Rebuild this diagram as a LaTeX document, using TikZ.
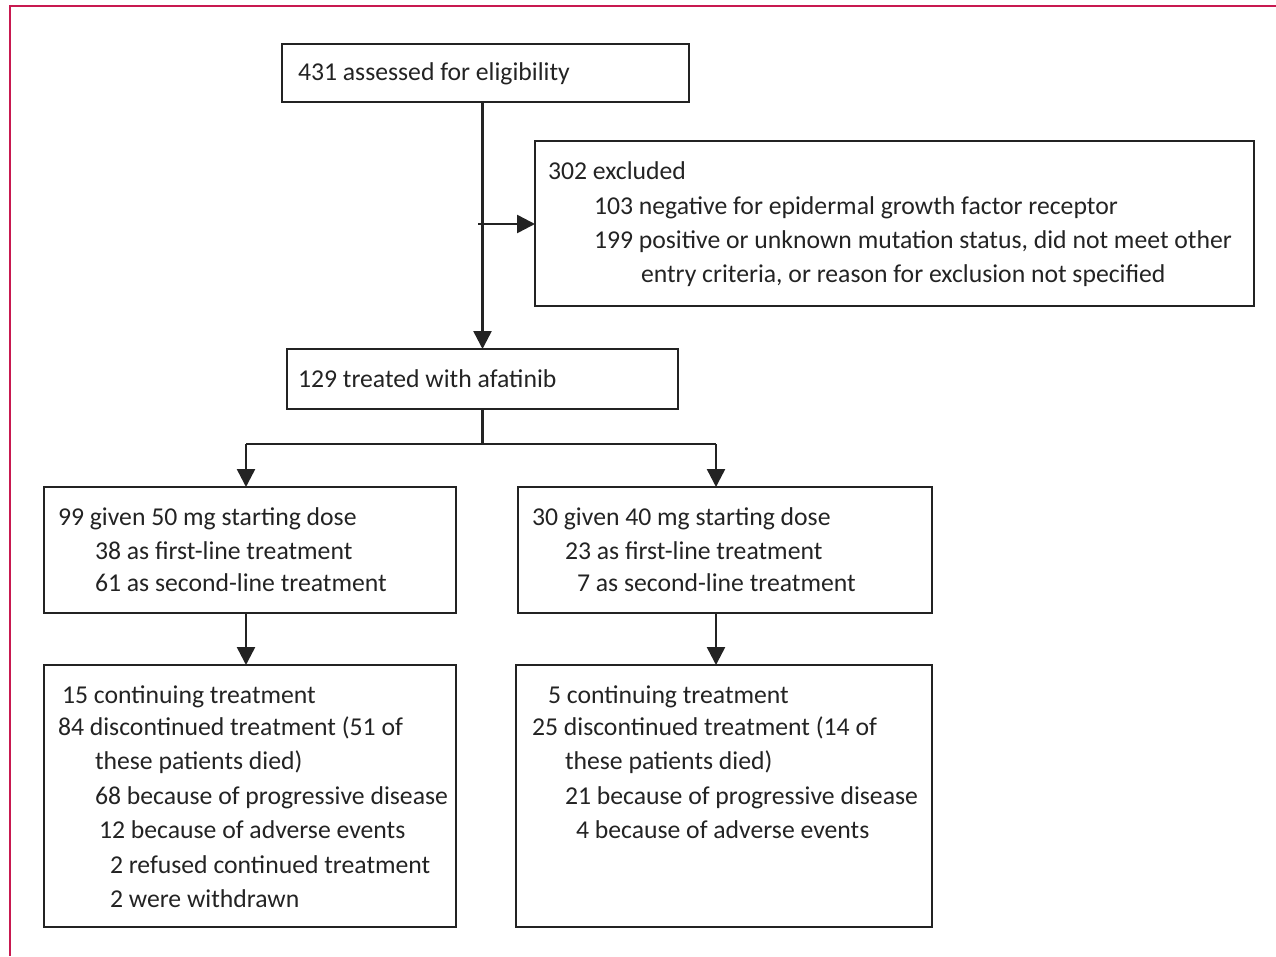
\documentclass[tikz,border=0pt]{standalone}
\usepackage{fontspec}
\setmainfont{Carlito}
\usetikzlibrary{arrows.meta}
\definecolor{framecol}{RGB}{200,25,80}
\definecolor{ink}{RGB}{35,35,35}
\begin{document}
\begin{tikzpicture}[x=1pt,y=-1pt,
  box/.style={draw=ink,line width=2.5pt,inner sep=0pt,outer sep=0pt,anchor=north west},
  txt/.style={anchor=base west,inner sep=0pt,outer sep=0pt,text=ink,font=\fontsize{25.7}{30}\selectfont},
  arr/.style={draw=ink,line width=2.5pt,-{Triangle[length=18pt,width=18pt]}},
  ln/.style={draw=ink,line width=2.5pt}]
\useasboundingbox (0,0) rectangle (1276,956);
\draw[framecol,line width=2.8pt] (10,956) -- (10,6) -- (1276,6);

% boxes
\node[box,minimum width=407pt,minimum height=58pt] (b1) at (282,44) {};
\node[box,minimum width=719pt,minimum height=165pt] (b2) at (535,141) {};
\node[box,minimum width=391pt,minimum height=60pt] (b3) at (287,349) {};
\node[box,minimum width=412pt,minimum height=126pt] (b4) at (44,487) {};
\node[box,minimum width=414pt,minimum height=126pt] (b5) at (518,487) {};
\node[box,minimum width=412pt,minimum height=262pt] (b6) at (44,665) {};
\node[box,minimum width=416pt,minimum height=262pt] (b7) at (516,665) {};

% connectors
\coordinate (hstart) at (478,224);
\coordinate (bl) at (246,444);
\coordinate (br) at (716,444);
\coordinate (split) at (482.5,444);
\draw[arr] (b3.north |- b1.south) -- (b3.north);
\draw[arr] (hstart) -- (hstart -| b2.west);
\draw[ln] (b3.south) -- (split);
\draw[ln] (bl) -- (br);
\draw[arr] (bl) -- (bl |- b4.north);
\draw[arr] (br) -- (br |- b5.north);
\draw[arr] (bl |- b4.south) -- (bl |- b6.north);
\draw[arr] (br |- b5.south) -- (br |- b7.north);

% texts
\node[txt] (t1) at (298,80) {431 assessed for eligibility};
\node[txt] (t2a) at (548,179) {302 excluded};
\node[txt] (t2b) at (594,214) {103 negative for epidermal growth factor receptor};
\node[txt] (t2c) at (594,248) {199 positive or unknown mutation status, did not meet other};
\node[txt] (t2d) at (641,282) {entry criteria, or reason for exclusion not specified};
\node[txt] (t3) at (298,387) {129 treated with afatinib};
\node[txt] (t4a) at (58,525) {99 given 50 mg starting dose};
\node[txt] (t4b) at (95,559) {38 as first-line treatment};
\node[txt] (t4c) at (95,591) {61 as second-line treatment};
\node[txt] (t5a) at (532,525) {30 given 40 mg starting dose};
\node[txt] (t5b) at (565,559) {23 as first-line treatment};
\node[txt] (t5c) at (577,591) {7 as second-line treatment};
\node[txt] (t6a) at (62,703) {15 continuing treatment};
\node[txt] (t6b) at (58,735) {84 discontinued treatment (51 of};
\node[txt] (t6c) at (95,769) {these patients died)};
\node[txt] (t6d) at (95,804) {68 because of progressive disease};
\node[txt] (t6e) at (99,838) {12 because of adverse events};
\node[txt] (t6f) at (110,873) {2 refused continued treatment};
\node[txt] (t6g) at (110,907) {2 were withdrawn};
\node[txt] (t7a) at (548,703) {5 continuing treatment};
\node[txt] (t7b) at (532,735) {25 discontinued treatment (14 of};
\node[txt] (t7c) at (565,769) {these patients died)};
\node[txt] (t7d) at (565,804) {21 because of progressive disease};
\node[txt] (t7e) at (576,838) {4 because of adverse events};
\end{tikzpicture}
\end{document}
